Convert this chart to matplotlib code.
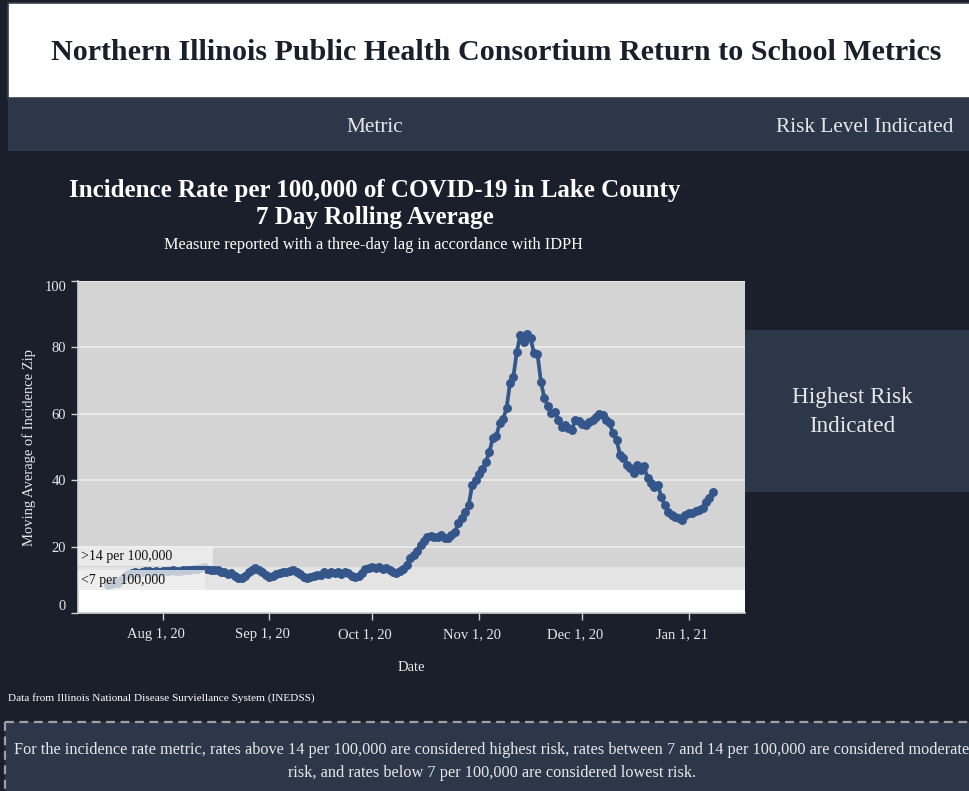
import matplotlib
matplotlib.use("Agg")
import matplotlib.pyplot as plt
import matplotlib.transforms as mtransforms
from matplotlib.patches import Rectangle
from matplotlib.lines import Line2D
import pandas as pd

plt.rcParams["font.family"] = ["Liberation Serif", "DejaVu Serif"]

# ---- data (7 day rolling incidence per 100k) ----
start_date = "2020-07-16"
jul = [8.4, 8.6, 8.9, 9.0, 9.8, 11.0, 11.8, 12.1, 12.3, 12.0, 12.5, 12.8, 12.6, 12.3, 12.6, 12.5]
aug = [12.6, 12.8, 12.7, 13.0, 12.8, 12.7, 13.0, 12.9, 13.1, 13.4, 13.3, 13.6, 13.9, 13.3, 13.1, 12.9,
       13.0, 12.5, 12.2, 11.8, 11.9, 11.2, 10.6, 10.4, 11.0, 12.2, 12.9, 13.5, 13.0, 12.2, 11.4]
sep = [10.9, 11.2, 11.6, 12.0, 12.4, 12.2, 12.6, 13.0, 12.5, 11.6, 10.8, 10.5, 10.9, 11.2, 11.4,
       11.3, 12.4, 11.8, 12.5, 12.0, 12.4, 11.6, 12.4, 12.0, 11.2, 10.9, 11.2, 12.0, 13.2, 13.6]
oct_ = [13.9, 13.6, 13.8, 13.4, 13.5, 13.0, 12.5, 12.0, 12.6, 13.4, 14.6, 16.5, 17.5, 18.8, 20.5, 21.8,
        23.0, 23.2, 22.8, 23.0, 23.5, 22.6, 22.5, 23.5, 24.5, 27.0, 28.5, 30.5, 32.5, 38.5, 40.0]
nov = [42.0, 43.5, 45.5, 48.5, 52.6, 53.2, 57.1, 58.4, 61.6, 69.2, 71.2, 78.7, 83.7, 81.7, 84.0,
       82.7, 78.2, 78.0, 69.7, 64.7, 62.3, 60.2, 60.6, 58.1, 56.1, 56.6, 55.8, 55.1, 58.1, 57.8]
dec = [57.0, 56.6, 57.6, 58.2, 59.1, 59.9, 59.6, 58.1, 57.1, 54.1, 52.1, 47.6, 46.6, 44.6, 43.6, 42.1,
       44.6, 43.1, 44.3, 40.6, 39.1, 38.1, 38.6, 35.0, 32.5, 30.5, 29.6, 29.0, 28.5, 28.0, 29.5]
jan = [30.0, 30.0, 30.6, 31.0, 31.5, 33.5, 34.5, 36.5]

values = jul + aug + sep + oct_ + nov + dec + jan
dates = pd.date_range(start_date, periods=len(values), freq="D")

tick_dates = pd.to_datetime(["2020-08-01", "2020-09-01", "2020-10-01", "2020-11-01", "2020-12-01", "2021-01-01"])
tick_labels = ["Aug 1, 20", "Sep 1, 20", "Oct 1, 20", "Nov 1, 20", "Dec 1, 20", "Jan 1, 21"]
y_ticks = [0, 20, 40, 60, 80, 100]

DARK = "#1b1f2b"
PANEL = "#2c374a"
LINE = "#34568b"
LIGHT = "#e8e8e8"

W, H = 970, 791
fig = plt.figure(figsize=(W / 100, H / 100), dpi=100)
fig.patch.set_facecolor(DARK)


def rect_px(x0, y0, x1, y1, color, **kw):
    fig.patches.append(Rectangle((x0 / W, 1 - y1 / H), (x1 - x0) / W, (y1 - y0) / H,
                                 transform=fig.transFigure, facecolor=color, **kw))


def text_px(x, y, s, **kw):
    fig.text(x / W, 1 - y / H, s, **kw)


def line_px(xs, ys, **kw):
    fig.lines.append(Line2D([x / W for x in xs], [1 - y / H for y in ys],
                            transform=fig.transFigure, **kw))


# page blocks
rect_px(8, 3, 972, 98, "white", edgecolor="#3a3f4a", linewidth=1.2)
rect_px(8, 99, 972, 151, PANEL, edgecolor="none")
rect_px(745, 330, 972, 492, PANEL, edgecolor="none")
rect_px(5, 722, 972, 793, PANEL, edgecolor="none")
line_px([5, 970], [722, 722], color="#a0a0a0", lw=1.6, linestyle=(0, (4, 2.5)))
line_px([5, 5], [722, 791], color="#a0a0a0", lw=1.6, linestyle=(0, (4, 2.5)))

text_px(496, 52, "Northern Illinois Public Health Consortium Return to School Metrics",
        ha="center", va="center", fontsize=21.6, fontweight="bold", color=DARK)
text_px(375, 127, "Metric", ha="center", va="center", fontsize=15.3, color=LIGHT)
text_px(865, 127, "Risk Level Indicated", ha="center", va="center", fontsize=15.3, color=LIGHT)

text_px(375, 190, "Incidence Rate per 100,000 of COVID-19 in Lake County",
        ha="center", va="center", fontsize=18, fontweight="bold", color="white")
text_px(375, 218, "7 Day Rolling Average", ha="center", va="center", fontsize=18,
        fontweight="bold", color="white")
text_px(373, 245, "Measure reported with a three-day lag in accordance with IDPH",
        ha="center", va="center", fontsize=11.7, color="white")

text_px(852, 397, "Highest Risk", ha="center", va="center", fontsize=16.7, color=LIGHT)
text_px(852, 426, "Indicated", ha="center", va="center", fontsize=16.7, color=LIGHT)

text_px(8, 698, "Data from Illinois National Disease Surviellance System (INEDSS)",
        ha="left", va="center", fontsize=8.1, color="white")
text_px(492, 750, "For the incidence rate metric, rates above 14 per 100,000 are considered highest risk, "
        "rates between 7 and 14 per 100,000 are considered moderate",
        ha="center", va="center", fontsize=11.7, color=LIGHT)
text_px(492, 773, "risk, and rates below 7 per 100,000 are considered lowest risk.",
        ha="center", va="center", fontsize=11.7, color=LIGHT)

# ---- chart ----
ax = fig.add_axes([78 / W, 1 - 613 / H, (745 - 78) / W, (613 - 281) / H])
ax.set_facecolor("#d4d4d4")
ax.axhspan(0, 7, color="white", zorder=0, lw=0)
ax.axhspan(7, 14, color="#e4e4e4", zorder=0, lw=0)
ax.set_axisbelow(True)
ax.yaxis.grid(True, color="#ededed", lw=1.2)

ax.plot(dates, values, "-o", color=LINE, lw=2.7, ms=5.4, zorder=3)

ax.set_ylim(0, 100)
ax.set_xlim(pd.Timestamp("2020-07-07 10:00"), pd.Timestamp("2021-01-17 08:00"))
ax.set_yticks(y_ticks)
ax.set_xticks(tick_dates)
ax.set_xticklabels(tick_labels)

for s in ["top", "right"]:
    ax.spines[s].set_visible(False)
for s in ["left", "bottom"]:
    ax.spines[s].set_color("#cfcfcf")
    ax.spines[s].set_linewidth(1.2)
ax.tick_params(colors="#cfcfcf", labelcolor=LIGHT, labelsize=10.5, length=5, width=1)
ax.tick_params(axis="x", pad=6)
ylabs = ax.get_yticklabels()
ylabs[0].set_va("bottom")
ylabs[-1].set_va("top")
shift = mtransforms.ScaledTranslation(-7 / 100, 0, fig.dpi_scale_trans)
for lbl in ax.get_xticklabels():
    lbl.set_transform(lbl.get_transform() + shift)

ax.set_xlabel("Date", fontsize=10.5, color=LIGHT, labelpad=14)
ax.set_ylabel("Moving Average of Incidence Zip", fontsize=10.5, color=LIGHT, labelpad=6)

# threshold label boxes
blend = mtransforms.blended_transform_factory(ax.transAxes, ax.transData)
ax.add_patch(Rectangle((0, 14.1), 135 / 667, 6.0, transform=blend, facecolor="#f2f2f2",
                       alpha=0.75, lw=0, zorder=4))
ax.add_patch(Rectangle((0, 6.9), 127 / 667, 6.1, transform=blend, facecolor="#f2f2f2",
                       alpha=0.75, lw=0, zorder=4))
ax.text(0.005, 17.1, ">14 per 100,000", transform=blend, ha="left", va="center",
        fontsize=10, color="#111111", zorder=5)
ax.text(0.005, 9.9, "<7 per 100,000", transform=blend, ha="left", va="center",
        fontsize=10, color="#111111", zorder=5)

fig.savefig("out.png", dpi=100, facecolor=fig.get_facecolor())
